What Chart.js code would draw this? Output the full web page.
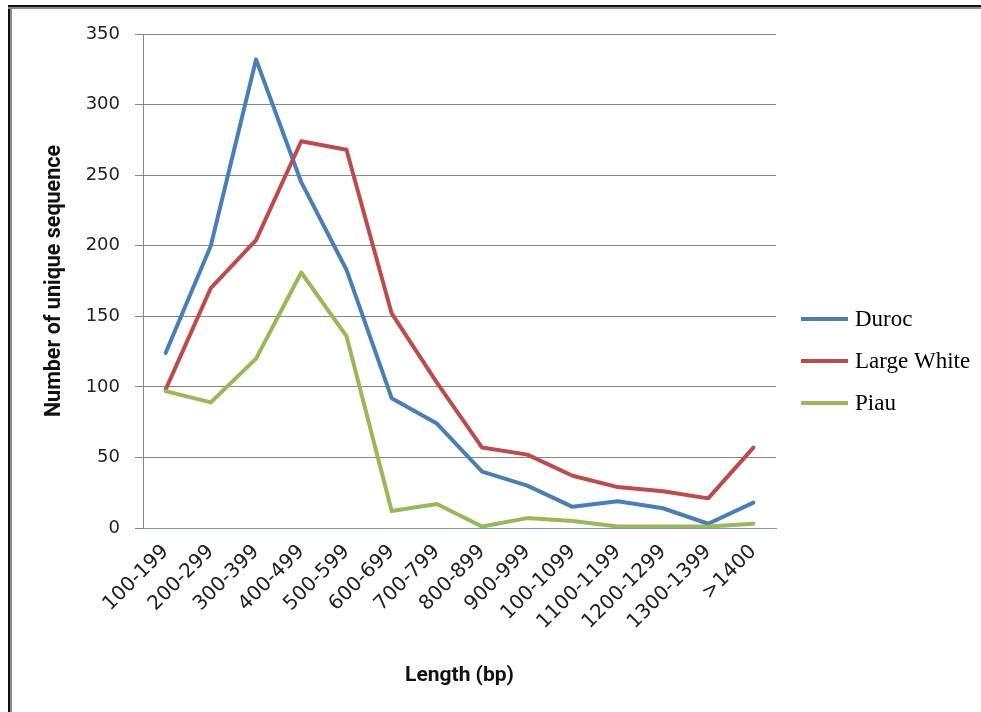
<!DOCTYPE html>
<html>
<head>
<meta charset="utf-8">
<script src="https://cdn.jsdelivr.net/npm/chart.js@4.4.1/dist/chart.umd.min.js"></script>
<style>
  html, body { margin: 0; padding: 0; background: #fff; }
  #wrap { position: relative; width: 981px; height: 712px; overflow: hidden; background: #fff; }
  #c { position: absolute; left: 0; top: 0; }
  .frame-left { position: absolute; left: 8px; top: 5px; width: 2px; height: 707px; background: #111; box-shadow: 2px 0 0 #8c8c8c; }
  .frame-top { position: absolute; left: 8px; top: 5px; width: 973px; height: 2px; background: #111; box-shadow: 0 2px 0 #8c8c8c; }
</style>
</head>
<body>
<div id="wrap">
  <canvas id="c" width="981" height="712"></canvas>
  <div class="frame-left"></div>
  <div class="frame-top"></div>
</div>
<script>
// Sequence length bins (bp)
const lengthBins = ['100-199', '200-299', '300-399', '400-499', '500-599', '600-699', '700-799',
  '800-899', '900-999', '100-1099', '1100-1199', '1200-1299', '1300-1399', '>1400'];

// Number of unique sequences per bin, by breed
const duroc      = [124, 200, 332, 245, 183, 92, 74, 40, 30, 15, 19, 14, 3, 18];
const largeWhite = [98, 170, 204, 274, 268, 152, 103, 57, 52, 37, 29, 26, 21, 57];
const piau       = [97, 89, 120, 181, 136, 12, 17, 1, 7, 5, 1, 1, 1, 3];

// Value axis range
const yMin = 0, yMax = 350, yStep = 50;

const GRID = '#868686';
const AXIS_BLUE = '#6f9fd6';

// Legend drawn to the right of the plot: a line swatch followed by a serif label
const sideLegend = {
  id: 'sideLegend',
  afterDraw(chart, args, opts) {
    const { ctx, chartArea } = chart;
    ctx.save();
    ctx.font = opts.font;
    ctx.textBaseline = 'middle';
    ctx.textAlign = 'left';
    chart.data.datasets.forEach((ds, i) => {
      const y = opts.firstRowY + i * opts.rowGap;
      const x = chartArea.right + opts.offsetX;
      ctx.strokeStyle = ds.borderColor;
      ctx.lineWidth = 4;
      ctx.lineCap = 'butt';
      ctx.beginPath();
      ctx.moveTo(x, y);
      ctx.lineTo(x + opts.swatch, y);
      ctx.stroke();
      ctx.fillStyle = '#000';
      ctx.fillText(ds.label, x + opts.swatch + opts.gap, y + 1);
    });
    ctx.restore();
  }
};

const lineStyle = {
  borderWidth: 4,
  pointRadius: 0,
  pointHoverRadius: 0,
  tension: 0,
  borderJoinStyle: 'round',
  borderCapStyle: 'round',
  fill: false
};

new Chart(document.getElementById('c'), {
  type: 'line',
  data: {
    labels: lengthBins,
    datasets: [
      { label: 'Duroc', data: duroc, borderColor: '#4a7ebb', backgroundColor: '#4a7ebb', order: 2, ...lineStyle },
      { label: 'Large White', data: largeWhite, borderColor: '#be4b48', backgroundColor: '#be4b48', order: 1, ...lineStyle },
      { label: 'Piau', data: piau, borderColor: '#98b954', backgroundColor: '#98b954', order: 0, ...lineStyle }
    ]
  },
  plugins: [sideLegend],
  options: {
    responsive: false,
    animation: false,
    devicePixelRatio: 1,
    layout: { padding: { left: 0, top: 34, right: 205, bottom: 0 } },
    plugins: {
      legend: { display: false },
      tooltip: { enabled: false },
      sideLegend: {
        font: '23px "Liberation Serif", "Times New Roman", serif',
        offsetX: 25,
        swatch: 47,
        gap: 7,
        firstRowY: 319,
        rowGap: 42
      }
    },
    scales: {
      x: {
        type: 'category',
        offset: true,
        grid: { display: false, drawTicks: false },
        border: { display: true, color: AXIS_BLUE, width: 1 },
        ticks: {
          autoSkip: false,
          minRotation: 45,
          maxRotation: 45,
          padding: 12,
          color: '#222',
          font: { family: '"DejaVu Sans", Verdana, sans-serif', size: 20 }
        },
        title: {
          display: true,
          text: 'Length (bp)',
          color: '#111',
          font: { family: 'Roboto, "Open Sans", sans-serif', size: 21, weight: 'bold' },
          padding: { top: 0, bottom: 24 }
        },
        afterFit(scale) { scale.height = 184; }
      },
      y: {
        min: yMin,
        max: yMax,
        ticks: {
          stepSize: yStep,
          padding: 15,
          color: '#222',
          font: { family: '"DejaVu Sans", Verdana, sans-serif', size: 18 }
        },
        grid: {
          color: (c) => (c.tick && c.tick.value === 0 ? AXIS_BLUE : GRID),
          tickColor: GRID,
          tickLength: 8,
          lineWidth: 1
        },
        border: { display: true, color: GRID, width: 1 },
        title: {
          display: true,
          text: 'Number of unique sequence',
          color: '#111',
          font: { family: 'Roboto, "Open Sans", sans-serif', size: 21.5, weight: 'bold' },
          padding: { top: 42, bottom: 0 }
        },
        afterFit(scale) { scale.width = 143; }
      }
    }
  }
});
</script>
</body>
</html>
